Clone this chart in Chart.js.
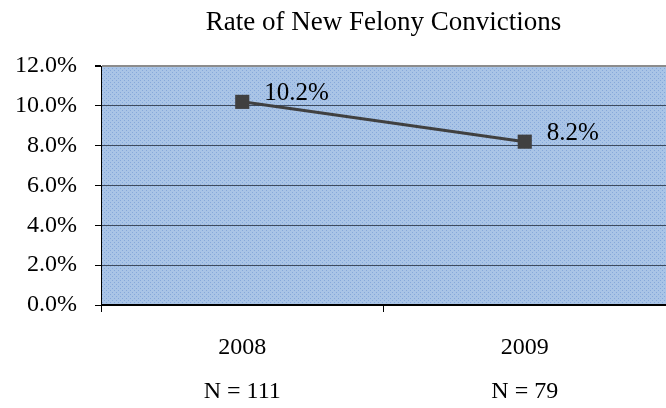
<!DOCTYPE html>
<html>
<head>
<meta charset="utf-8">
<script src="https://cdn.jsdelivr.net/npm/chart.js@4/dist/chart.umd.min.js"></script>
<style>
    html, body { margin: 0; padding: 0; background: #fff; }
    #wrap { width: 666px; height: 408px; }
</style>
</head>
<body>
<div id="wrap"><canvas id="chart"></canvas></div>
<script>
// Data
const years = ["2008", "2009"];
const sampleSizes = ["N = 111", "N = 79"];
const rates = [10.2, 8.2];
const yMin = 0;
const yMax = 12;
const yStep = 2;

const serif = "'Liberation Serif', 'DejaVu Serif', serif";

// dotted blue fill like the office chart background
function makePattern() {
    const c = document.createElement("canvas");
    c.width = 4;
    c.height = 4;
    const g = c.getContext("2d");
    g.fillStyle = "#a9c4e6";
    g.fillRect(0, 0, 4, 4);
    g.fillStyle = "#86a8da";
    g.fillRect(0, 0, 1, 1);
    g.fillRect(2, 2, 1, 1);
    return g.createPattern(c, "repeat");
}

const plotBackground = {
    id: "plotBackground",
    beforeDraw(chart) {
        const { ctx, chartArea: a } = chart;
        ctx.save();
        ctx.fillStyle = makePattern();
        ctx.fillRect(a.left, a.top, a.right - a.left, a.bottom - a.top);
        ctx.restore();
    }
};

const valueLabels = {
    id: "valueLabels",
    afterDatasetsDraw(chart) {
        const { ctx } = chart;
        const meta = chart.getDatasetMeta(0);
        ctx.save();
        ctx.font = "25px " + serif;
        ctx.fillStyle = "#000";
        ctx.textAlign = "left";
        ctx.textBaseline = "middle";
        meta.data.forEach((pt, i) => {
            ctx.fillText(rates[i].toFixed(1) + "%", pt.x + 22, pt.y - 8);
        });
        ctx.restore();
    }
};

const axisLines = {
    id: "axisLines",
    afterDatasetsDraw(chart) {
        const { ctx, chartArea: a } = chart;
        ctx.save();
        ctx.strokeStyle = "#000";
        ctx.lineWidth = 2;
        ctx.beginPath();
        ctx.moveTo(a.left, a.bottom);
        ctx.lineTo(a.right, a.bottom);
        ctx.stroke();
        ctx.restore();
    }
};

new Chart(document.getElementById("chart"), {
    type: "line",
    plugins: [plotBackground, valueLabels, axisLines],
    data: {
        labels: years.map((y, i) => [y, sampleSizes[i]]),
        datasets: [{
            data: rates,
            borderColor: "#404040",
            borderWidth: 3,
            pointStyle: "rect",
            pointRadius: 10,
            pointBackgroundColor: "#404040",
            pointBorderColor: "#404040",
            pointBorderWidth: 0,
            tension: 0
        }]
    },
    options: {
        responsive: true,
        maintainAspectRatio: false,
        animation: false,
        // plot runs off the right edge in the original
        layout: { padding: { top: 0, bottom: 0, left: 0, right: -7 }, autoPadding: false },
        plugins: {
            legend: { display: false },
            tooltip: { enabled: false },
            title: {
                display: true,
                fullSize: false,
                text: "Rate of New Felony Convictions",
                color: "#000",
                font: { family: serif, size: 27, weight: "normal" },
                padding: { top: 7, bottom: 26.6 }
            }
        },
        scales: {
            x: {
                offset: true,
                grid: {
                    display: true,
                    offset: true,
                    drawOnChartArea: false,
                    drawTicks: true,
                    tickLength: 7,
                    color: "#000"
                },
                border: { display: false },
                ticks: {
                    color: "#000",
                    padding: 14,
                    font: { family: serif, size: 24, lineHeight: 1.83 }
                },
                afterFit(scale) {
                    scale.height = 103;
                    scale.paddingLeft = 0;
                    scale.paddingRight = 0;
                }
            },
            y: {
                min: yMin,
                max: yMax,
                grid: {
                    color: (c) => c.tick && c.tick.value === yMax ? "#8c8c8c" : "#3e4b5e",
                    lineWidth: (c) => c.tick && c.tick.value === yMax ? 2 : 1,
                    tickLength: 6,
                    tickColor: "#000"
                },
                border: { display: true, color: "#000", width: 1 },
                ticks: {
                    stepSize: yStep,
                    color: "#000",
                    padding: 18,
                    font: { family: serif, size: 24 },
                    callback: (v) => v.toFixed(1) + "%"
                },
                afterFit(scale) { scale.width = 101; }
            }
        }
    }
});
</script>
</body>
</html>
